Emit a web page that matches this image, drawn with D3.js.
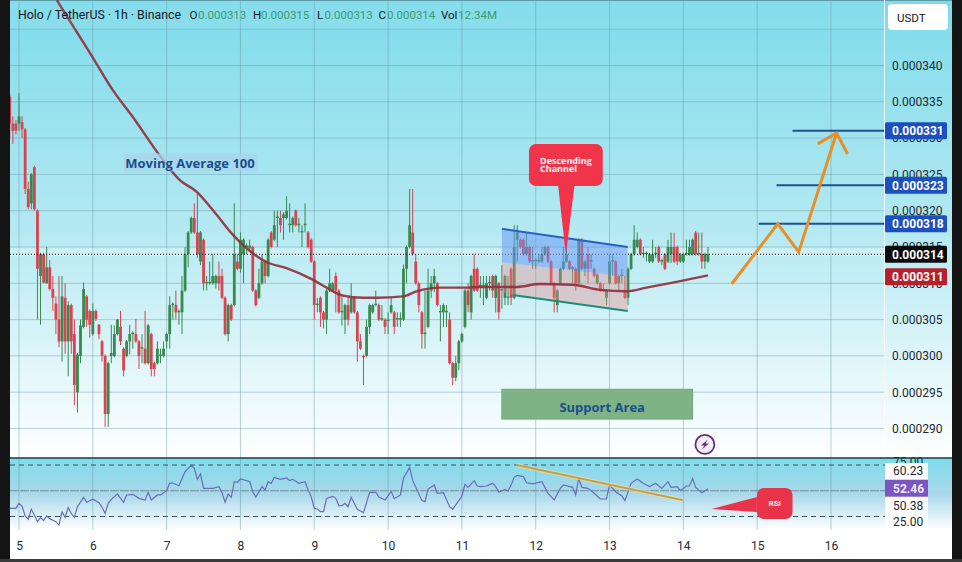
<!DOCTYPE html>
<html><head><meta charset="utf-8">
<script src="https://cdn.jsdelivr.net/npm/d3@7/dist/d3.min.js"></script>
<style>html,body{margin:0;padding:0;background:#141414;overflow:hidden}svg{display:block}text{font-family:Roboto,sans-serif}</style>
</head><body><div id="chart"></div>
<script>
// Hour offsets count from 00:00 on day 5; prices are in millionths of USDT.
const firstHour = -3;
const dayTicks = [5,6,7,8,9,10,11,12,13,14,15,16];
const priceTicks = [345,340,335,330,325,320,315,310,305,300,295,290];
const priceLabelTicks = [340,335,330,325,320,315,310,305,300,295,290];
const opens = [
335.7,332,332,332,332.2,331.2,323,321,326,320,
311,314,310,312.2,309.2,307.2,305,302,308,302,
307,303,295,300,304,308.2,306.2,303,306.2,304.3,
302,300,292,300,300,303,304,301,300,302,
303,303,302,301,301,299,303,299,299,300,
300,302,303,307,307,306,306,309,314,317,
319,317,313,316,310,310,310,310,311,311,
308,303,307,307,313,312,314,315,314.8,315,
309,308,310,313,311,317,316,319,319,319,
319,318,318,320,318,317,318,317,316,313,
307,308,306,305,309,309,311,309,306,305,
307,306,308,306,302,300,300,304,306,307,
307,305,305,304.8,306,306,305,305,305,312,
315,317,313,310,306,303,304,309,310,310,
306,306,306,305,299,297,299,302,304,309,
306,312,312,309.6,309.6,308,310,311,308,310,
309,308,308,312,308,316,316,316,314,315,
313,313,313,313,314,315,313,310,307,310,
312,313,313,312,312,310,316,312,314,313,
312,310,310,309,308,310,313,313,310,311,
309,308,312,314,315,316,314,314,313,313,
314,315,313,314,313,314,315,315,313,313,
314,314,314,317,314,314,313,313];
const closes = [
332,331,331,333,331.2,323,320.5,325,320.2,312,
314,310.1,312.2,309.2,308,305,302,308.2,302,307,
302,296,300.2,304.2,309.2,305,304.3,306.2,305.1,303,
300,292,299,300.4,303,305,302,298,302,303,
303.2,302,300,301.2,299,304.2,298.2,298.2,301,300.2,
301,303,307,307.2,306,306.2,309,314,317,319,
317,314,317,310,310.2,310.2,311,311,310,308,
303,307,305,314,312,316,316,315.2,315.2,309,
307,310,313,311,316,315,318,319.2,318,319.5,
320,318.2,319,318,318.2,317.2,318.2,315,313,307,
307.2,306,305,309,310,310,309,306,306.2,307,
305,308,306,302,301,299.8,304,307,307,307.2,
305,305.2,304,305,307,304,305.2,305.2,312,315,
318,314,310,307,303,303.2,309,310,311,307,
306.2,307,306.2,299,297,299,302,303,309,307,
311,309,309,309.8,309.8,310,310.2,309,311,306,
309.2,311,308.2,308,315,317,315,314,315,313,
313.2,313.2,313.2,314,315,313,310,308,309,312,
313,314,312,312.2,310,316,312,313,312,313.2,
311,311.2,309,309.2,309,313,313.2,310,311,311.2,
308,312,314,316,316,314,314.2,314.2,314,314,
314.2,313,313.2,312,315,315,313,313,314,314,
314.2,315,316,314,314.2,313,314,314];
const highs = [
336,333,332.5,336.2,333,331.4,324,325.2,326.2,320.2,
314.2,314.2,315,313.2,311,308.2,311,311,310,307.5,
307.2,305,300.4,305,310.1,308.4,306.4,307.2,306.4,304.4,
302.2,300.2,299.2,304.3,304.2,305.1,306.2,301.2,302.2,304.3,
303.4,305.1,302.2,303,306.2,304.4,303.2,299.2,302,301,
302,303.2,308.2,307.4,309,306.4,311,315,317.2,319.2,
321,322.4,317.2,316.2,311,313,314,311.2,313,312,
308.2,307.2,307.2,321,314,317,316.2,315.5,316,315.2,
309.2,312,314,313.2,316.2,317.2,320,320,320,319.8,
322,321,319.2,320.2,319,318,321,317.2,316.2,313.2,
308,308.2,306.2,309.2,312,310.2,311.5,309.2,308.2,307.2,
308.2,310,308.2,306.2,303,300.2,305,307.2,307.2,309,
307.2,307,305.2,306,308,306.2,306,306,312.6,315.2,
323,323,314,310.2,306.2,309,312,311,312,310.2,
307,307.2,307,306,299.2,300,302.2,303.2,309.2,310,
311.2,314,312.2,311,311,311,311,311.2,311.2,310.2,
312.5,311.2,311,312.2,318,318,316.2,316.2,317,315.2,
315,313.4,314,315,315.2,315.2,313.2,310.2,309.2,312.2,
315,315,313.2,312.4,312.2,316.2,316.2,313.2,315,314,
312.2,311.4,310.2,310,309.2,314,314,313.2,311.2,312,
311,312.2,314.2,318,317,316.2,315,314.4,314.2,316,
315,315.2,313.4,314.2,316,317,317,315.2,314.2,314.2,
316,316,316.2,317.2,317,317,314.2,315];
const lows = [
330,329.2,330.5,331,330,322.3,320.2,320.2,320,305,
304.3,310,310,309,306.2,303,301.2,299.2,300.3,297.2,
300.3,293.2,292.2,299,303.8,304,302.5,302.8,304.8,302.3,
299.2,290.2,290.2,299,299.8,302.8,301.5,297.2,299.8,300.2,
301,301.8,298.2,299,298.8,298.8,297.2,297.2,298.8,299,
299.8,301,301,305,305,304.3,303,308.8,312.2,316.8,
316.8,313.5,312.5,309,309,309.8,309.8,309.3,309,307.8,
302.8,302,304.8,306.8,311.8,311.5,310,314,314.5,308.8,
306.8,307.8,309.8,310,310.8,314.8,315.8,315,317,316,
318.8,317,317,317.8,317,315,317,314.8,312.8,305,
306,304,303.8,303,308.8,308.8,306,305.8,304.2,303,
304.2,305.8,305.8,299.2,300.8,296,299.8,303,305.8,306.8,
304.8,304.8,303,303,305.8,303,304,304,304.8,310,
314.8,313.8,309.8,306,301,301,303.8,308,308.8,306.8,
302,304,304,298.8,296,296.5,298,301.8,303.8,306,
305,308.8,308.8,308,307,307.8,309,308,306,305,
306.5,307,307,307,307.8,313,314.8,313.8,313.8,312.8,
312,312,312.8,312.8,313.8,312.8,309.8,306,306,309.8,
311.8,312.8,311.8,310,309,309.8,311.8,311,310,312,
310.8,309.8,308.8,308.8,307,309.8,311,309.8,309,310,
307.8,307,311.8,313.8,314.8,313.8,313.5,313,312.8,312.8,
313.5,312.8,312.5,311.8,312.8,312.8,312.8,312.5,312.8,312.8,
313.8,313.8,313.8,313.8,313.8,312,312,312.8];
const maHours = [12.3,23.1,30.5,37,46.8,52.3,57.8,63,69.5,80.6,87,95.5,100,105.3,111.8,116.3,124.8,129.3,136.8,145.6,149.8,156.3,161.8,169.3,180,188.8,197.6,204,213.8,224];
const maValues = [349,341.7,336.6,332.9,327,324.2,322.6,320.1,316.7,312.9,312.1,310.5,309.4,308.3,308,308,308.2,308.9,309.4,309.4,309.5,309.5,309.5,309.9,309.8,309.1,308.9,309.4,310.2,311.1];
const rsiHours = [-3,-1,0,1,2,3,4,5,6,7,8,9,10,12,13,14,15,16,17,18,19,21,22,24,26,27,28,29,30,32,34,35,37,39,41,42,43,45,46,48,49,50,52,54,56,57,58,59,60,63,65,66,67,68,69,70,71,72,75,76,77,79,80,81,82,83,85,87,88,89,91,93,94,95,96,97,98,99,100,102,103,104,105,106,107,108,110,112,114,116,117,119,121,122,124,125,127,128,131,132,133,135,136,138,140,141,142,144,145,146,148,149,150,152,154,155,156,158,159,160,161,162,164,165,167,170,172,174,176,177,180,181,182,183,185,187,189,191,192,194,196,197,199,201,203,205,207,209,211,212,214,215,217,218,219,220,222,224];
const rsiValues = [32.9,32.9,37.8,35.2,25.5,22.2,32,26.5,20,23.9,21,25.5,22.9,20,16.7,29.4,24.2,33.6,28,24.2,34.5,43.6,38.8,41.7,38.4,33.9,28,37.8,41.7,46.8,38.8,45.9,46.5,42.6,41,48.5,41,45.9,45.9,50.1,57.5,57.5,54.9,68.5,74.7,71.8,61.1,66.3,52.3,52.3,54,48.1,38.8,46.8,43.6,58.8,58.2,61.4,59.1,49.1,43.9,54,50.7,58.8,57.2,63,61.1,62.4,59.8,61.1,57.2,58.8,50.7,44.3,32.9,32.3,29.7,29.7,42.6,44.6,42.6,35.5,35.5,37.8,34.5,43.6,32,28.7,48.5,48.5,43.9,41,49.4,42.3,45.9,62.1,72.7,59.8,40.4,39.4,51.7,55.6,47.5,48.1,34.5,32,36.2,44.9,56.2,53.3,59.8,54.6,54,54.6,57.2,54,48.5,51.4,49.8,55.6,63,65,63.7,57.8,56.6,58.8,47.5,41,52.3,55.6,53.3,45.9,62,53.3,52.3,47.5,42,42,55.6,49.1,44.9,40.4,57.2,61.4,57.2,54,57.2,52.3,58.8,53.3,54,50.1,54.6,54.6,62,53.3,48.1,52];
const rsiLevels = [75,50,25];
const rsiSideLabels = ["60.23","50.38","25.00"];
const rsiSideValues = [69.2,35.2,19.7];
const targetLevels = [331,323.5,318.2];
const targetStarts = [251.5,246.3,240.5];
const targetLabels = ["0.000331","0.000323","0.000318"];
const arrowHours = [231.7,246.7,253.5,265.8];
const arrowPrices = [309.9,318.2,314.3,330.7];
const arrowHeadHours = [259.7,265.8,269.4];
const arrowHeadPrices = [329.2,330.7,327.8];
const headerItems = ["O","H","L","C","Vol"];
const headerValues = ["0.000313","0.000315","0.000313","0.000314","12.34M"];

const W=962,H=562,left=10,right=885,frameR=952,paneB=458,rsiB=530,frameB=559;
const x=d3.scaleLinear().domain([0,264]).range([19,831]);
const y=d3.scaleLinear().domain([340,290]).range([65.5,428.5]);
const r=d3.scaleLinear().domain([75,25]).range([465,516.5]);
const svg=d3.select("#chart").append("svg").attr("width",W).attr("height",H);
const defs=svg.append("defs");
function grad(id,stops){const g=defs.append("linearGradient").attr("id",id).attr("x1",0).attr("x2",0).attr("y1",0).attr("y2",1);
 stops.forEach(s=>g.append("stop").attr("offset",s[0]).attr("stop-color",s[1]));}
grad("bgMain",[[0,"#7edbea"],[.5,"#b4e9f2"],[1,"#ffffff"]]);
grad("bgRsi",[[0,"#7edbea"],[.5,"#a9d8ea"],[.85,"#e6f4fa"],[1,"#ffffff"]]);
defs.append("clipPath").attr("id","mainClip").append("rect").attr("x",left).attr("y",0).attr("width",right-left).attr("height",paneB);

// panes
svg.append("rect").attr("width",W).attr("height",H).attr("fill","#141414");
svg.append("rect").attr("x",left).attr("y",0).attr("width",frameR-left).attr("height",frameB).attr("fill","#fff");
svg.append("rect").attr("x",left).attr("y",0).attr("width",frameR-left).attr("height",paneB).attr("fill","url(#bgMain)");
svg.append("rect").attr("x",left).attr("y",paneB).attr("width",frameR-left).attr("height",rsiB-paneB).attr("fill","url(#bgRsi)");
svg.append("rect").attr("x",left).attr("y",0).attr("width",frameR-left).attr("height",1).attr("fill","#5c9aa5");
svg.append("rect").attr("x",0).attr("y",frameB).attr("width",W).attr("height",H-frameB).attr("fill","#3a3a3a");

// grid
const grid=svg.append("g");
grid.selectAll(".h").data(priceTicks).join("line").attr("x1",left).attr("x2",right).attr("y1",d=>y(d)).attr("y2",d=>y(d)).attr("stroke","#5f8f9c").attr("stroke-opacity",.38);
grid.selectAll(".v").data(dayTicks).join("line").attr("x1",d=>x((d-5)*24)).attr("x2",d=>x((d-5)*24)).attr("y1",0).attr("y2",rsiB).attr("stroke","#5f8f9c").attr("stroke-opacity",.42);

// current price band
const main=svg.append("g").attr("clip-path","url(#mainClip)");
main.append("rect").attr("x",left).attr("width",right-left).attr("y",y(314)-6).attr("height",8).attr("fill","#fff").attr("opacity",.28);

// candles
const candles=opens.map((o,i)=>({h:firstHour+i,o,c:closes[i],hi:highs[i],lo:lows[i]}));
const colour=d=>d.c>=d.o?"#37894f":"#d8434f";
const cg=main.append("g");
cg.selectAll(".w").data(candles).join("line").attr("x1",d=>x(d.h)).attr("x2",d=>x(d.h)).attr("y1",d=>y(d.hi)).attr("y2",d=>y(d.lo)).attr("stroke",colour).attr("stroke-width",1);
cg.selectAll(".b").data(candles).join("rect").attr("x",d=>x(d.h)-1.4).attr("width",2.8).attr("y",d=>y(Math.max(d.o,d.c))).attr("height",d=>Math.max(1,Math.abs(y(d.o)-y(d.c)))).attr("fill",colour);

main.append("line").attr("x1",left).attr("x2",right).attr("y1",y(314)).attr("y2",y(314)).attr("stroke","#111").attr("stroke-dasharray","1 2");

// channel
const poly=(pts,fill)=>main.append("polygon").attr("points",pts.map(p=>x(p[0])+","+y(p[1])).join(" ")).attr("fill",fill);
poly([[157,317.5],[197.9,315],[197.9,310.9],[157,312.9]],"rgba(105,150,245,.52)");
poly([[157,312.9],[197.9,310.9],[197.9,306.2],[160.5,308.4],[157,308.8]],"rgba(232,140,140,.38)");

// moving average
const lineMA=d3.line().x(d=>x(d[0])).y(d=>y(d[1])).curve(d3.curveMonotoneX);
main.append("path").attr("d",lineMA(maHours.map((h,i)=>[h,maValues[i]]))).attr("fill","none").attr("stroke","#93303e").attr("stroke-width",2.4).attr("stroke-opacity",.92);
main.append("line").attr("x1",x(157)).attr("y1",y(317.5)).attr("x2",x(197.9)).attr("y2",y(315)).attr("stroke","#2b5fc4").attr("stroke-width",2);
main.append("line").attr("x1",x(160.5)).attr("y1",y(308.4)).attr("x2",x(197.9)).attr("y2",y(306.2)).attr("stroke","#1f8a78").attr("stroke-width",2);

// support
main.append("rect").attr("x",x(157)).attr("width",x(219)-x(157)).attr("y",y(295.4)).attr("height",y(291.3)-y(295.4)).attr("fill","#7fb285").attr("stroke","#6fa578");
main.append("text").attr("x",x(189.6)).attr("y",y(292.3)).attr("text-anchor","middle").attr("font-size",13).attr("font-weight",700).attr("fill","#1c4f8a").style("font-family","'Open Sans',sans-serif").text("Support Area");

// moving-average note
main.append("rect").attr("x",x(34.1)).attr("width",x(77.6)-x(34.1)).attr("y",y(327.9)).attr("height",18).attr("fill","#a8d4ee").attr("opacity",.75);
main.append("text").attr("x",x(55.6)).attr("y",y(325.9)).attr("text-anchor","middle").attr("font-size",13).attr("font-weight",700).attr("fill","#1c4f8a").style("font-family","'Open Sans',sans-serif").text("Moving Average 100");

// targets and arrow
main.selectAll(".t").data(targetLevels).join("line").attr("x1",(d,i)=>x(targetStarts[i])).attr("x2",right).attr("y1",d=>y(d)).attr("y2",d=>y(d)).attr("stroke","#1f4f94").attr("stroke-width",2);
const lineP=d3.line().x(d=>x(d[0])).y(d=>y(d[1]));
main.append("path").attr("d",lineP(arrowHours.map((h,i)=>[h,arrowPrices[i]]))).attr("fill","none").attr("stroke","#e88f26").attr("stroke-width",3);
main.append("path").attr("d",lineP(arrowHeadHours.map((h,i)=>[h,arrowHeadPrices[i]]))).attr("fill","none").attr("stroke","#e88f26").attr("stroke-width",3);

// descending channel callout
main.append("polygon").attr("points",[[175.2,323.8],[180.7,323.8],[177.8,313.9]].map(p=>x(p[0])+","+y(p[1])).join(" ")).attr("fill","#f0344a");
main.append("rect").attr("x",x(165.8)).attr("width",x(189.8)-x(165.8)).attr("y",y(329.2)).attr("height",y(323.4)-y(329.2)).attr("rx",7).attr("fill","#f0344a");
const callout=main.append("text").attr("fill","#fff").attr("font-size",9).attr("font-weight",700).style("font-family","'Open Sans',sans-serif");
callout.append("tspan").attr("x",x(169.4)).attr("y",y(326.5)).text("Descending");
callout.append("tspan").attr("x",x(169.4)).attr("y",y(325.3)).text("Channel");

// lightning marker
const mark=main.append("g").attr("transform",`translate(${x(223)},${y(287.8)})`);
mark.append("circle").attr("r",9.5).attr("fill","#f4f0fa").attr("stroke","#6a2c78").attr("stroke-width",1.8);
mark.append("path").attr("d",d3.line()([[3,-5],[-4,1],[-.5,1],[-3,5],[4,-1],[.5,-1]])+"Z").attr("fill","#6a2c78");

// header
svg.append("rect").attr("x",left).attr("y",1).attr("width",right-left).attr("height",29).attr("fill","#fff").attr("opacity",.05);
const hd=svg.append("g").attr("font-size",11.5).attr("fill","#131722");
hd.append("text").attr("x",18).attr("y",19).attr("font-size",12.3).text("Holo / TetherUS · 1h · Binance");
const hx=[189.5,253,317,378.5,441],vx=[198,261,324.5,387,458];
headerItems.forEach((k,i)=>{hd.append("text").attr("x",hx[i]).attr("y",19).text(k);
 hd.append("text").attr("x",vx[i]).attr("y",19).attr("fill","#3c9a72").text(headerValues[i]);});

// axes
svg.append("line").attr("x1",right-.5).attr("x2",right-.5).attr("y1",0).attr("y2",paneB).attr("stroke","#fff").attr("stroke-opacity",.85);
const py=svg.append("g").attr("transform",`translate(${right},0)`).call(d3.axisRight(y).tickValues(priceLabelTicks).tickSize(0).tickPadding(7).tickFormat(d=>(d*1e-6).toFixed(6)));
py.select(".domain").remove();
py.selectAll("text").attr("font-size",12).attr("fill","#1b2a33").style("font-family","Roboto,sans-serif");
const px=svg.append("g").attr("transform",`translate(0,${rsiB+19})`).call(d3.axisBottom(x).tickValues(dayTicks.map(d=>(d-5)*24)).tickSize(0).tickPadding(0).tickFormat(d=>String(d/24+5)));
px.select(".domain").remove();
px.selectAll("text").attr("font-size",12).attr("fill","#1b2a33").attr("dy","0.1em").style("font-family","Roboto,sans-serif");

// USDT button
svg.append("rect").attr("x",888).attr("y",4).attr("width",60).attr("height",26).attr("rx",4).attr("fill","#fff");
svg.append("text").attr("x",897).attr("y",22).attr("font-size",11.5).attr("fill","#131722").text("USDT");

// price tags
function tag(p,label,fill){svg.append("rect").attr("x",right).attr("width",62).attr("y",y(p)-8.5).attr("height",17).attr("rx",1.5).attr("fill",fill);
 svg.append("text").attr("x",right+7).attr("y",y(p)+4.5).attr("font-size",12).attr("font-weight",700).attr("fill","#fff").text(label);}
targetLevels.forEach((p,i)=>tag(p,targetLabels[i],"#1c4fbf"));
tag(314,"0.000314","#0b0b0b");
tag(310.9,"0.000311","#b5202e");

// RSI pane
const rsiG=svg.append("g");
rsiG.selectAll("line").data(rsiLevels).join("line").attr("x1",left).attr("x2",right).attr("y1",d=>r(d)).attr("y2",d=>r(d)).attr("stroke",d=>d===50?"#6d8c98":"#3d5560").attr("stroke-dasharray",d=>d===50?"9 1":"5 4");
rsiG.append("path").attr("d",d3.line().x(d=>x(d[0])).y(d=>r(d[1]))(rsiHours.map((h,i)=>[h,rsiValues[i]]))).attr("fill","none").attr("stroke","#6a6db5").attr("stroke-width",1.2);
rsiG.append("line").attr("x1",x(161.8)).attr("y1",r(75)).attr("x2",x(215.8)).attr("y2",r(41)).attr("stroke","#e8dfa0").attr("stroke-width",4).attr("stroke-opacity",.7);
rsiG.append("line").attr("x1",x(161.8)).attr("y1",r(75)).attr("x2",x(215.8)).attr("y2",r(41)).attr("stroke","#c99a48").attr("stroke-width",1.8);
rsiG.append("polygon").attr("points",[[225.2,32.3],[239.9,43.9],[239.9,29.3]].map(p=>x(p[0])+","+r(p[1])).join(" ")).attr("fill","#e8334a");
rsiG.append("rect").attr("x",x(239.9)).attr("width",x(251.5)-x(239.9)).attr("y",r(52.7)).attr("height",r(22.6)-r(52.7)).attr("rx",7).attr("fill","#e8334a");
rsiG.append("text").attr("x",x(245.7)).attr("y",r(35.5)).attr("text-anchor","middle").attr("font-size",8).attr("font-weight",700).attr("fill","#fff").text("RSI");

// RSI side labels
svg.append("text").attr("x",right+8).attr("y",r(75)+1).attr("font-size",12).attr("fill","#1b2a33").text("75.00");
svg.append("rect").attr("x",right).attr("y",463).attr("width",43).attr("height",66).attr("fill","#fff");
rsiSideLabels.forEach((l,i)=>svg.append("text").attr("x",right+8).attr("y",r(rsiSideValues[i])+4.5).attr("font-size",12).attr("fill","#1b2a33").text(l));
svg.append("rect").attr("x",right).attr("y",r(52.46)-8.5).attr("width",43).attr("height",17).attr("fill","#7b55c0");
svg.append("text").attr("x",right+8).attr("y",r(52.46)+4.5).attr("font-size",12).attr("font-weight",700).attr("fill","#f1e9ff").text("52.46");

// separator
svg.append("line").attr("x1",left).attr("x2",frameR).attr("y1",paneB).attr("y2",paneB).attr("stroke","#123e48").attr("stroke-width",1.5);
</script></body></html>
